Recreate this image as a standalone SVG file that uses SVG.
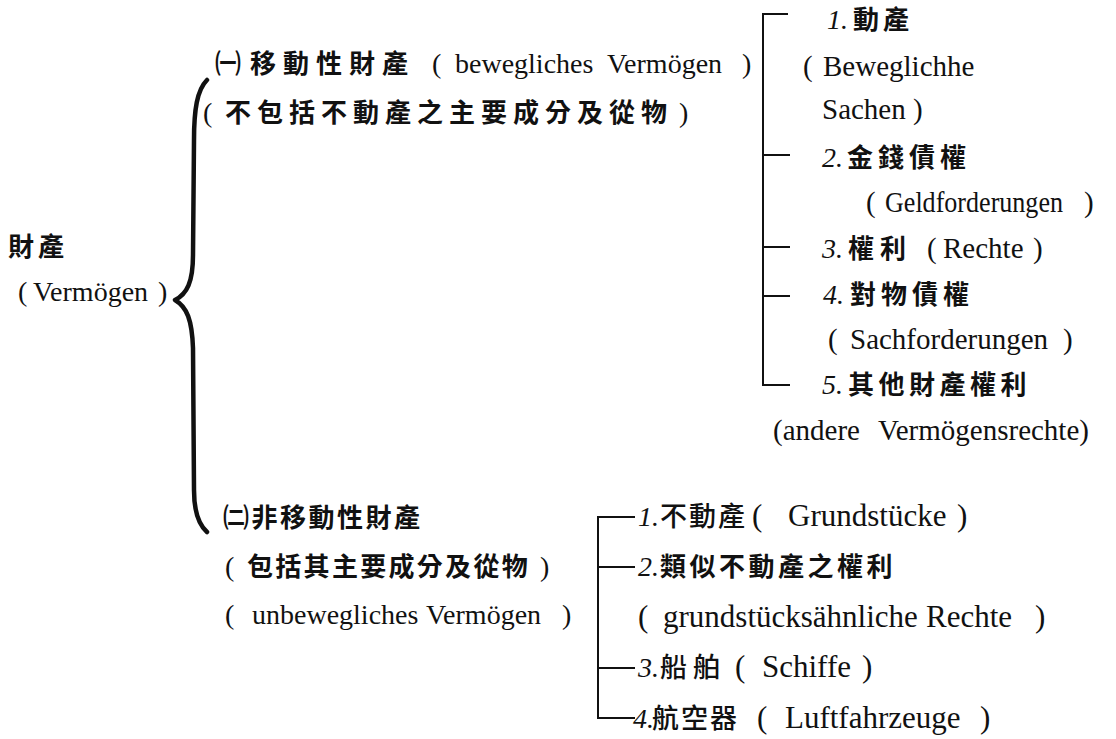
<svg xmlns="http://www.w3.org/2000/svg" width="1116" height="739" viewBox="0 0 1116 739">
<style>
.cjk{font-family:"Noto Sans CJK TC","Noto Sans CJK SC",sans-serif;font-weight:700;font-size:26px;fill:#111}
.cjm{font-family:"Noto Sans CJK TC","Noto Sans CJK SC",sans-serif;font-weight:500;font-size:27px;fill:#111}
.lat{font-family:"Liberation Serif",serif;font-size:28px;fill:#111}
.lr{font-family:"Liberation Serif",serif;font-size:29px;fill:#111}
.lb{font-family:"Liberation Serif",serif;font-size:31px;fill:#111}
.num{font-family:"Liberation Serif",serif;font-size:28px;font-style:italic;fill:#111}
.ln{stroke:#111;stroke-width:2;fill:none}
.brace{stroke:#111;stroke-width:4.5;fill:none;stroke-linecap:round;stroke-linejoin:round}
</style>
<rect width="1116" height="739" fill="#fff"/>
<g id="connectors">
<path class="brace" d="M207 80 C197 90 194 110 194 140 L193 255 C193 282 187 294 175 300 C187 307 192 320 193 348 L194 490 C194 510 198 524 207 532"/>
<path class="ln" d="M788 14 H763 V385 H790 M763 155 H790 M763 247 H790 M763 296 H790"/>
<path class="ln" d="M635 517 H598 V718 H635 M598 567 H635 M598 668 H635"/>
</g>
<g id="n-root">
<text class="cjk" x="8" y="256" letter-spacing="4">財產</text>
<text class="lat" x="18" y="301">(</text><text class="lat" x="33" y="301">Vermögen</text><text class="lat" x="158" y="301">)</text>
</g>
<g id="n-mov">
<text class="cjk" x="215" y="73">㈠</text><text class="cjk" x="250" y="73" letter-spacing="7">移動性財產</text>
<text class="lat" x="432" y="73">(</text><text class="lat" x="455" y="73">bewegliches</text><text class="lat" x="607" y="73">Vermögen</text><text class="lat" x="742" y="73">)</text>
<text class="lat" x="203" y="122">(</text><text class="cjk" x="225" y="122" letter-spacing="6">不包括不動產之主要成分及從物</text><text class="lat" x="679" y="122">)</text>
</g>
<g id="n-m1">
<text class="num" x="827" y="29">1.</text><text class="cjk" x="853" y="29" letter-spacing="4">動產</text>
<text class="lr" x="803" y="76">(</text><text class="lr" x="823" y="76">Beweglichhe</text>
<text class="lr" x="822" y="119">Sachen</text><text class="lr" x="913" y="119">)</text>
</g>
<g id="n-m2">
<text class="num" x="822" y="167">2.</text><text class="cjk" x="847" y="167" letter-spacing="5">金錢債權</text>
<text class="lr" x="866" y="212">(</text><text class="lr" x="885" y="212" textLength="178" lengthAdjust="spacingAndGlyphs">Geldforderungen</text><text class="lr" x="1084" y="212">)</text>
</g>
<g id="n-m3">
<text class="num" x="822" y="258">3.</text><text class="cjk" x="848" y="258" letter-spacing="6">權利</text>
<text class="lr" x="927" y="258">(</text><text class="lr" x="943" y="258">Rechte</text><text class="lr" x="1033" y="258">)</text>
</g>
<g id="n-m4">
<text class="num" x="823" y="304">4.</text><text class="cjk" x="850" y="304" letter-spacing="5">對物債權</text>
<text class="lr" x="828" y="349">(</text><text class="lr" x="850" y="349">Sachforderungen</text><text class="lr" x="1063" y="349">)</text>
</g>
<g id="n-m5">
<text class="num" x="822" y="394">5.</text><text class="cjk" x="848" y="394" letter-spacing="4.5">其他財產權利</text>
<text class="lr" x="773" y="440" font-size="30">(andere</text><text class="lr" x="878" y="440" font-size="30">Vermögensrechte)</text>
</g>
<g id="n-immov">
<text class="cjk" x="223" y="527" letter-spacing="2.5">㈡非移動性財產</text>
<text class="lat" x="225" y="576">(</text><text class="cjk" x="247" y="576" letter-spacing="2.3">包括其主要成分及從物</text><text class="lat" x="540" y="576">)</text>
<text class="lat" x="225" y="624">(</text><text class="lat" x="252" y="624">unbewegliches</text><text class="lat" x="426" y="624">Vermögen</text><text class="lat" x="562" y="624">)</text>
</g>
<g id="n-i1">
<text class="num" x="638" y="526">1.</text><text class="cjm" x="660" y="526" letter-spacing="2">不動產</text>
<text class="lb" x="752" y="526">(</text><text class="lb" x="788" y="526">Grundstücke</text><text class="lb" x="957" y="526">)</text>
</g>
<g id="n-i2">
<text class="num" x="638" y="576">2.</text><text class="cjk" x="660" y="576" letter-spacing="3.5">類似不動產之權利</text>
<text class="lb" x="638" y="627">(</text><text class="lb" x="663" y="627">grundstücksähnliche</text><text class="lb" x="926" y="627">Rechte</text><text class="lb" x="1035" y="627">)</text>
</g>
<g id="n-i3">
<text class="num" x="638" y="677">3.</text><text class="cjm" x="660" y="677" letter-spacing="6">船舶</text>
<text class="lb" x="735" y="677">(</text><text class="lb" x="762" y="677">Schiffe</text><text class="lb" x="862" y="677">)</text>
</g>
<g id="n-i4">
<text class="num" x="633" y="728">4.</text><text class="cjm" x="652" y="728" letter-spacing="2">航空器</text>
<text class="lb" x="757" y="728">(</text><text class="lb" x="785" y="728">Luftfahrzeuge</text><text class="lb" x="980" y="728">)</text>
</g>
</svg>
